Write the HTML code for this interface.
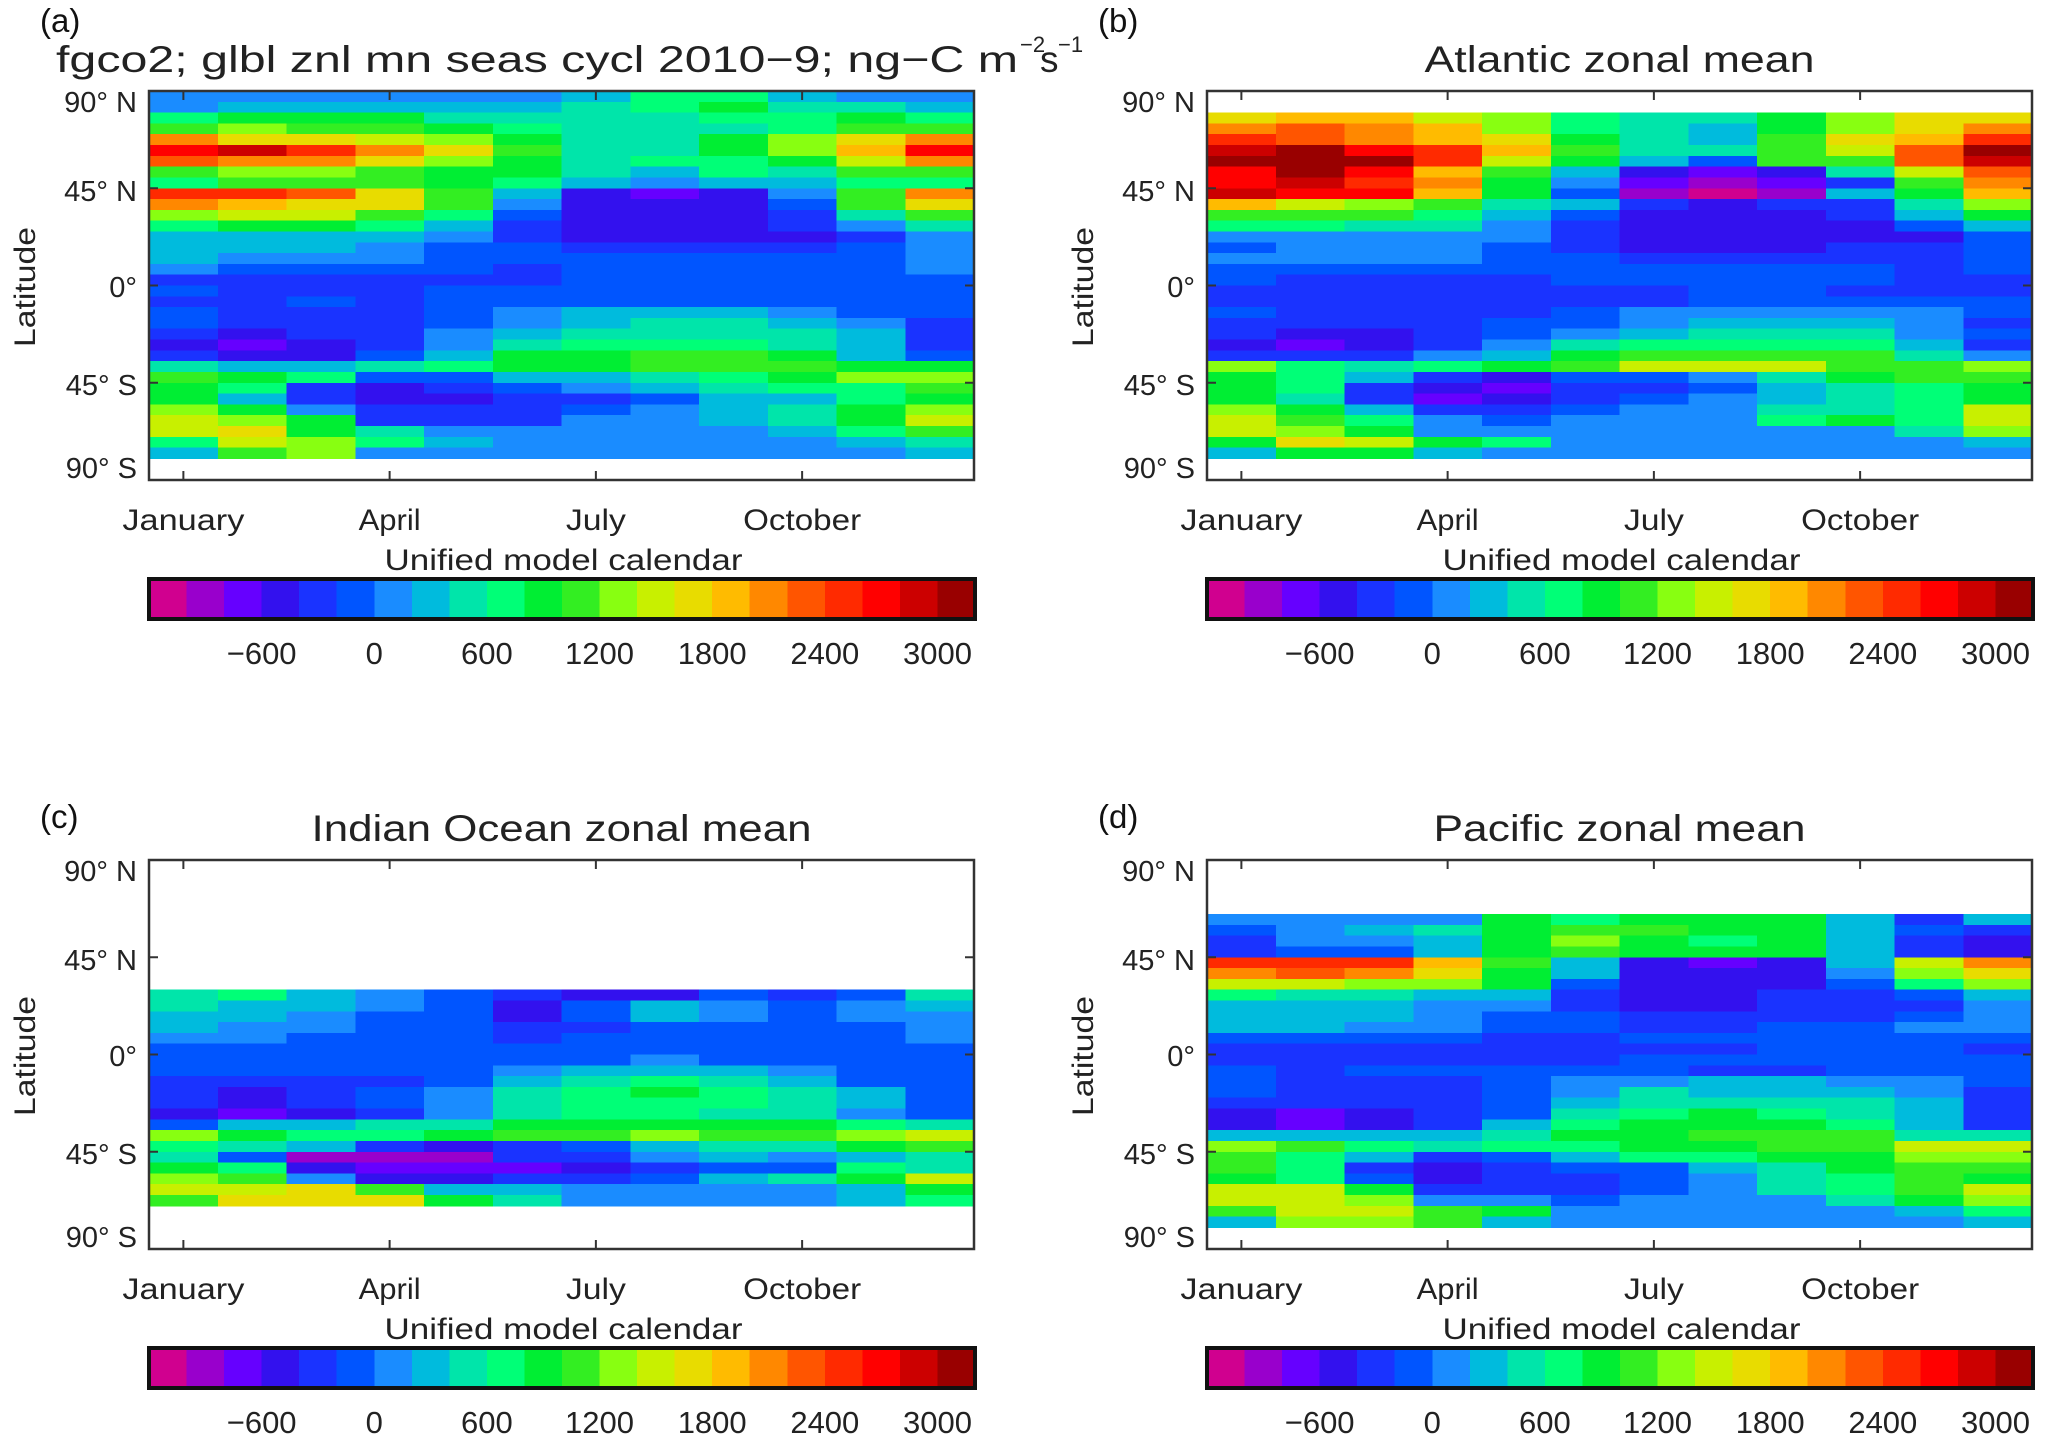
<!DOCTYPE html>
<html><head><meta charset="utf-8"><title>fgco2 zonal mean seasonal cycle</title>
<style>
html,body{margin:0;padding:0;background:#fff;}
svg{display:block;font-family:"Liberation Sans",sans-serif;}
</style></head>
<body>
<svg id="fig" xmlns="http://www.w3.org/2000/svg" width="2067" height="1455" viewBox="0 0 2067 1455"></svg>
<script>
// ---- data ----
const months = ["Jan","Feb","Mar","Apr","May","Jun","Jul","Aug","Sep","Oct","Nov","Dec"];
const monthTickLabels = ["January","April","July","October"];
const monthTickIdx = [0,3,6,9];
const latTickValues = [90,45,0,-45,-90];
const latTickLabels = ["90° N","45° N","0°","45° S","90° S"];
const bandSize = 5;
const cbarLevelMin = -1200;
const cbarLevelStep = 200;
const cbarColors = ["#d0008f","#9900cc","#6600ff","#3311ee","#1a33ff","#0055ff","#1a8cff","#00bbdd","#00e5aa","#00ff77","#00ee33","#33ee22","#88ff11","#c8f000","#e8dc00","#ffbb00","#ff8800","#ff5500","#ff2a00","#ff0000","#cc0000","#990000"];
const cbarTickValues = [-600,0,600,1200,1800,2400,3000];
const cbarTickLabels = ["−600","0","600","1200","1800","2400","3000"];

const globalLatNorth = 90;
const globalValues = [
[100,100,100,100,100,100,300,700,600,300,100,100],
[150,300,300,300,300,300,500,600,900,500,500,300],
[600,900,800,900,500,500,500,500,600,600,800,700],
[1100,1300,1100,1000,800,600,400,500,500,600,1000,1100],
[2000,1700,1600,1500,1200,900,500,400,800,1300,1700,2000],
[2700,2800,2400,2000,1600,1100,500,500,900,1300,1900,2600],
[2200,2100,2000,1700,1300,900,500,600,700,900,1400,2000],
[1100,1300,1200,1000,900,800,500,300,600,500,1000,1100],
[700,1000,1100,1000,800,600,300,100,300,200,700,600],
[2400,2500,2300,1700,1000,300,-500,-700,-600,0,1100,2100],
[2000,1800,1700,1600,1000,100,-500,-600,-500,-200,1000,1700],
[1300,1400,1400,1100,600,-100,-500,-500,-500,-300,500,1000],
[600,900,800,700,300,-300,-500,-500,-500,-400,100,400],
[200,300,300,200,0,-300,-500,-500,-500,-500,-300,100],
[200,300,200,150,-100,-200,-400,-400,-400,-400,-200,100],
[300,100,100,100,-100,-100,-200,-200,-200,-200,-100,100],
[100,-100,-100,-100,-200,-300,-100,-100,-100,-100,-100,100],
[-300,-300,-300,-300,-300,-300,-200,-200,-100,-100,-100,-100],
[-200,-400,-400,-400,-200,-200,-200,-200,-200,-200,-200,-200],
[-300,-400,-200,-300,-200,-200,-200,-100,-100,-100,-200,-200],
[-100,-400,-400,-400,-100,100,200,300,300,100,-100,-200],
[-100,-400,-400,-400,-100,100,300,400,400,200,100,-300],
[-400,-500,-400,-400,100,300,500,500,500,500,300,-300],
[-600,-700,-600,-400,100,400,600,700,700,500,300,-300],
[-400,-500,-500,-200,300,800,800,1000,1000,800,200,-100],
[500,300,200,500,700,900,900,1100,1100,1100,900,900],
[1000,800,600,-100,-200,300,300,500,600,900,1200,1200],
[900,600,-300,-500,-400,-200,100,300,400,600,700,1100],
[900,300,-400,-600,-500,-400,-300,-100,200,300,600,900],
[1200,800,100,-400,-400,-400,-200,100,300,400,900,1200],
[1500,1200,900,-300,-400,-300,100,100,300,500,800,1500],
[1400,1600,900,500,100,100,100,100,100,200,600,1100],
[600,1500,1300,700,200,100,100,100,100,100,200,500],
[300,1100,1200,100,100,100,100,100,100,100,100,200]
];

const atlanticLatNorth = 80;
const atlanticValues = [
[1600,1800,1800,1500,1200,700,400,500,900,1300,1600,1700],
[2000,2300,2100,1900,1300,700,500,300,900,1300,1700,2100],
[2400,2200,2100,1900,1700,900,500,300,1000,1600,1800,2500],
[2900,3000,2700,2400,1800,1000,500,500,1000,1400,2200,3000],
[3100,3100,3100,2500,1500,800,200,-200,1000,1000,2300,2800],
[2700,3100,2700,1800,1100,200,-500,-800,-600,400,1500,2200],
[2600,2800,2400,2000,900,0,-800,-1000,-800,-300,1000,2000],
[2900,2700,2600,1900,900,-200,-900,-1100,-1000,200,900,1800],
[1800,1500,1300,1000,500,200,-400,-500,-400,-300,500,1300],
[1100,1100,1000,700,300,-200,-500,-500,-500,-400,200,800],
[700,600,500,500,100,-400,-600,-600,-600,-500,-200,300],
[100,100,100,100,0,-400,-500,-600,-600,-500,-500,-100],
[-200,100,100,100,-200,-300,-500,-500,-500,-400,-400,-200],
[100,100,150,100,-100,-200,-400,-400,-400,-400,-400,-100],
[-200,-200,-200,-200,-200,-100,-200,-200,-200,-200,-300,-200],
[-100,-300,-300,-300,-300,-100,-200,-200,-200,-200,-300,-300],
[-300,-300,-300,-400,-300,-300,-300,-200,-200,-300,-400,-400],
[-300,-300,-400,-400,-400,-400,-300,-200,-200,-100,-200,-200],
[-100,-300,-400,-400,-400,-200,0,100,100,0,0,-200],
[-300,-300,-400,-400,-200,-200,100,300,300,300,100,-300],
[-300,-500,-500,-400,-200,100,300,500,500,500,100,-200],
[-500,-700,-500,-400,0,400,600,700,700,600,300,-300],
[-300,-400,-300,0,300,900,1100,1100,1100,1000,500,100],
[1200,700,500,600,900,1000,1500,1500,1400,1100,1000,1300],
[900,600,200,-300,-600,-200,-200,0,500,800,1100,1100],
[800,600,-300,-600,-700,-400,-300,-100,300,500,700,900],
[900,400,-300,-700,-500,-300,-200,100,300,400,600,800],
[1200,800,200,-300,-300,-200,100,100,400,500,700,1500],
[1400,1100,700,100,-100,0,100,100,600,900,700,1400],
[1400,1300,800,100,100,100,100,100,100,100,400,1200],
[900,1600,1500,800,700,100,100,100,100,100,100,300],
[200,800,900,200,100,100,100,100,100,100,100,100]
];

const indianLatNorth = 30;
const indianValues = [
[400,600,300,100,-200,-300,-500,-500,-200,-300,-200,500],
[500,300,300,100,-200,-500,-200,300,100,-200,100,300],
[300,300,100,-100,-200,-500,-200,300,100,-200,100,100],
[300,100,100,-100,-200,-400,-300,-200,-100,-200,-100,100],
[100,100,-100,-100,-100,-300,-200,-200,-200,-100,-100,100],
[-100,-100,-100,-100,-100,-100,-100,-100,-100,-100,-100,-100],
[-100,-100,-100,-100,-100,-100,-100,0,-100,-100,-100,-100],
[-100,-100,-100,-100,-100,100,200,300,300,100,-200,-200],
[-400,-400,-400,-400,-100,300,500,600,500,300,-100,-200],
[-400,-500,-400,-100,100,500,700,800,700,500,200,-200],
[-400,-600,-400,-100,100,500,700,700,700,500,300,-200],
[-600,-700,-500,-300,100,400,600,600,500,500,100,-200],
[-100,300,300,400,500,800,900,900,900,900,700,500],
[1200,900,700,600,900,1000,1100,1200,1100,1000,1300,1400],
[700,400,300,-400,-500,-400,-200,200,400,500,800,1000],
[500,-200,-900,-1000,-900,-400,-300,100,300,100,300,500],
[900,600,-500,-700,-700,-700,-500,-300,-100,-100,700,500],
[1200,1000,100,-500,-500,-400,-300,-100,300,400,900,1400],
[1500,1500,1600,1000,300,300,100,100,100,100,300,800],
[1000,1700,1600,1600,900,500,100,100,100,100,300,700]
];

const pacificLatNorth = 65;
const pacificValues = [
[100,100,100,100,800,700,900,900,800,200,-300,300],
[-100,100,300,400,900,1100,1000,900,900,300,-200,-300],
[-300,0,100,300,900,1300,900,700,900,300,-300,-500],
[-300,-200,-100,300,900,1100,900,900,800,200,-400,-600],
[2500,2400,2400,1800,1000,300,-500,-700,-500,200,1500,2000],
[2100,2200,2100,1600,900,300,-500,-600,-500,100,1300,1600],
[1500,1500,1300,1200,900,-100,-500,-500,-500,-200,700,1200],
[700,500,500,300,300,-300,-500,-500,-400,-300,-200,300],
[300,300,300,100,100,-300,-500,-500,-400,-300,-300,100],
[300,300,300,100,-100,-200,-400,-400,-400,-300,-200,100],
[300,300,100,100,-100,-200,-300,-300,-200,-200,0,100],
[-200,-200,-200,-200,-300,-300,-200,-200,-200,-200,-100,-100],
[-300,-300,-300,-300,-300,-300,-300,-300,-200,-200,-200,-300],
[-300,-400,-300,-300,-300,-300,-200,-200,-200,-200,-200,-200],
[-200,-300,-200,-200,-200,-200,-200,-300,-300,-200,-200,-200],
[-200,-300,-400,-300,-200,100,100,200,200,100,100,-200],
[-200,-400,-400,-400,-200,100,400,300,300,300,100,-300],
[-300,-400,-400,-400,-100,200,500,500,500,500,200,-300],
[-500,-700,-500,-400,-100,400,700,800,700,500,200,-400],
[-500,-700,-500,-400,200,700,800,900,900,700,300,-400],
[300,300,300,200,500,800,900,1000,1000,1100,500,400],
[1300,1000,700,500,600,700,800,900,1000,1100,1400,1400],
[1100,700,200,-300,-200,300,600,700,900,900,1300,1300],
[1000,700,-300,-500,-400,-200,-100,200,500,800,1000,1000],
[900,600,-200,-500,-400,-300,-200,100,400,600,1000,900],
[1400,1500,900,-400,-400,-300,-200,100,400,600,1000,1500],
[1500,1500,1200,100,100,-200,100,100,100,500,900,1300],
[1000,1500,1500,1100,800,100,100,100,100,100,300,700],
[200,1300,1300,1000,200,100,100,100,100,100,100,200]
];

// ---- drawing ----
const NS = "http://www.w3.org/2000/svg";
const svg = document.getElementById("fig");
function mk(tag, attrs, parent){
  const e = document.createElementNS(NS, tag);
  for (const k in attrs) e.setAttribute(k, attrs[k]);
  (parent||svg).appendChild(e);
  return e;
}
function colorFor(v){
  let i = Math.floor((v - cbarLevelMin)/cbarLevelStep);
  if (i < 0) i = 0; if (i >= cbarColors.length) i = cbarColors.length-1;
  return cbarColors[i];
}
const PW = 825, PH = 389;

function drawPanel(cfg){
  const g = mk("g", {});
  
  
  const x0 = 149 + cfg.ox, y0 = 91 + cfg.oy;
  const xs = m => x0 + m * PW / 12;
  const ys = lat => y0 + (90 - lat) / 180 * PH;

  // heatmap cells
  const hm = mk("g", {"shape-rendering":"crispEdges"}, g);
  
  
  cfg.values.forEach((row, r) => {
    const latN = cfg.latNorth - r * bandSize;
    const latS = latN - bandSize;
    row.forEach((v, m) => {
      const c = mk("rect", {x: xs(m), y: ys(latN), width: xs(m+1)-xs(m)+0.5, height: ys(latS)-ys(latN)+0.5, fill: colorFor(v)}, hm);
      
      
    });
  });

  // frame
  const fr = mk("rect", {x:x0, y:y0, width:PW, height:PH, fill:"none", stroke:"#333", "stroke-width":2.5}, g);
  
  

  // month ticks and labels
  monthTickIdx.forEach((mi, k) => {
    const x = xs(mi + 0.5);
    mk("line", {x1:x, y1:y0+PH, x2:x, y2:y0+PH-9, stroke:"#333", "stroke-width":2}, g);
    mk("line", {x1:x, y1:y0, x2:x, y2:y0+9, stroke:"#333", "stroke-width":2}, g);
    const t = mk("text", {x:x, y:y0+PH+50, "text-anchor":"middle", "font-size":30, fill:"#222", textLength:[122,62,60,118][k], lengthAdjust:"spacingAndGlyphs"}, g);
    t.textContent = monthTickLabels[k];
    
    
  });
  // lat ticks and labels
  const labY = [102,191,287,385,468];
  latTickValues.forEach((lat, k) => {
    const y = ys(lat);
    mk("line", {x1:x0, y1:y, x2:x0+9, y2:y, stroke:"#333", "stroke-width":2}, g);
    mk("line", {x1:x0+PW, y1:y, x2:x0+PW-9, y2:y, stroke:"#333", "stroke-width":2}, g);
    const t = mk("text", {x:x0-12, y:labY[k]+cfg.oy+10, "text-anchor":"end", "font-size":29, fill:"#222"}, g);
    t.textContent = latTickLabels[k];
    
    
  });
  // y title
  const yt = mk("text", {x:0, y:0, transform:`translate(${35+cfg.ox},${287+cfg.oy}) rotate(-90)`, "text-anchor":"middle", "font-size":30, fill:"#222", textLength:120, lengthAdjust:"spacingAndGlyphs"}, g);
  yt.textContent = "Latitude";
  
  
  // x title
  const xt = mk("text", {x:x0+PW/2+2, y:570+cfg.oy, "text-anchor":"middle", "font-size":30, fill:"#222", textLength:358, lengthAdjust:"spacingAndGlyphs"}, g);
  xt.textContent = "Unified model calendar";
  
  
  // panel label
  const pl = mk("text", {x:40+cfg.ox, y:cfg.labelY, "font-size":33, fill:"#111"}, g);
  pl.textContent = cfg.label;
  
  
  // title
  if (cfg.title) {
    const tt = mk("text", {x:x0+PW/2, y:72+cfg.oy, "text-anchor":"middle", "font-size":37, fill:"#222", textLength:cfg.titleLen, lengthAdjust:"spacingAndGlyphs"}, g);
    tt.textContent = cfg.title;
    
    
  }
  // colorbar
  const cb = mk("g", {"shape-rendering":"crispEdges"}, g);
  
  
  const cbx0 = 149 + cfg.ox, cbw = 826, cby0 = 579 + cfg.oy, cbh = 40;
  const binW = cbw / cbarColors.length;
  cbarColors.forEach((c, i) => {
    const r = mk("rect", {x:cbx0+i*binW, y:cby0, width:binW+0.5, height:cbh, fill:c}, cb);
    
    
  });
  mk("rect", {x:cbx0, y:cby0, width:cbw, height:cbh, fill:"none", stroke:"#111", "stroke-width":4}, cb);
  cbarTickValues.forEach((v, k) => {
    const x = cbx0 + (v - cbarLevelMin)/cbarLevelStep*binW;
    const t = mk("text", {x:x, y:cby0+cbh+45, "text-anchor":"middle", "font-size":31, fill:"#222"}, g);
    t.textContent = cbarTickLabels[k];
    
    
  });
}

drawPanel({name:"panel-global", ox:0, oy:0, label:"(a)", labelY:32, title:null, latNorth:globalLatNorth, values:globalValues});
drawPanel({name:"panel-atlantic", ox:1058, oy:0, label:"(b)", labelY:32, title:"Atlantic zonal mean", titleLen:390, latNorth:atlanticLatNorth, values:atlanticValues});
drawPanel({name:"panel-indian", ox:0, oy:769, label:"(c)", labelY:828, title:"Indian Ocean zonal mean", titleLen:500, latNorth:indianLatNorth, values:indianValues});
drawPanel({name:"panel-pacific", ox:1058, oy:769, label:"(d)", labelY:828, title:"Pacific zonal mean", titleLen:372, latNorth:pacificLatNorth, values:pacificValues});

// panel (a) title with superscripts
const ta = mk("g", {});


const t1 = mk("text", {x:56, y:72, "font-size":37, fill:"#222", textLength:962, lengthAdjust:"spacingAndGlyphs"}, ta);
t1.textContent = "fgco2; glbl znl mn seas cycl 2010−9; ng−C m";
const t2 = mk("text", {x:1020, y:52, "font-size":22, fill:"#222"}, ta);
t2.textContent = "−2";
const t3 = mk("text", {x:1040, y:72, "font-size":37, fill:"#222"}, ta);
t3.textContent = "s";
const t4 = mk("text", {x:1058, y:52, "font-size":22, fill:"#222"}, ta);
t4.textContent = "−1";
</script>
</body></html>
